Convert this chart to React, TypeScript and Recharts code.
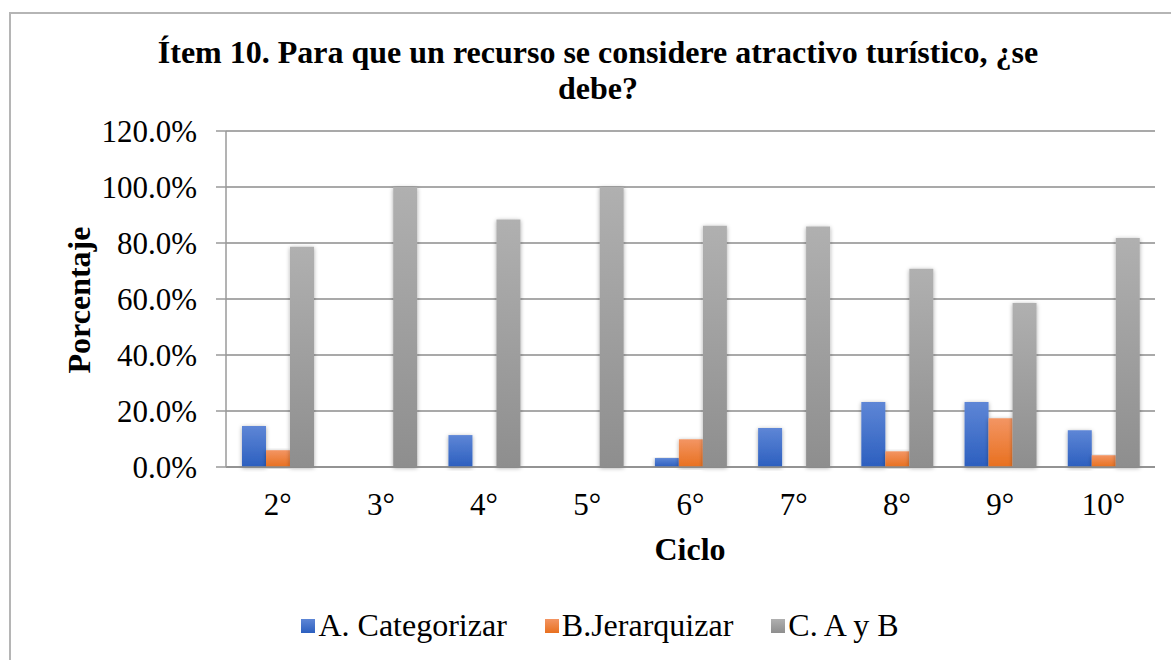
import React from 'react';
import { BarChart, Bar, XAxis, YAxis, CartesianGrid, Legend } from 'recharts';

const categories = ['2°', '3°', '4°', '5°', '6°', '7°', '8°', '9°', '10°'];
const seriesA = [0.146, 0, 0.114, 0, 0.032, 0.139, 0.232, 0.232, 0.131];
const seriesB = [0.06, 0, 0, 0, 0.099, 0, 0.056, 0.174, 0.042];
const seriesC = [0.787, 1.0, 0.884, 1.0, 0.862, 0.859, 0.708, 0.586, 0.818];
const yTicks = [0, 0.2, 0.4, 0.6, 0.8, 1.0, 1.2];
const seriesNames = ['A. Categorizar', 'B.Jerarquizar', 'C. A y B'];
const titleLines = ['Ítem 10. Para que un recurso se considere atractivo turístico, ¿se', 'debe?'];

const data = categories.map((c, i) => ({ name: c, a: seriesA[i], b: seriesB[i], c: seriesC[i] }));

const FONT = "'Liberation Serif', 'Times New Roman', serif";
const legendColors = ['url(#gA)', 'url(#gB)', 'url(#gC)'];
const legendSolid = [
  ['#5e86d6', '#2c5fbf'],
  ['#f39563', '#e8701f'],
  ['#b0b0b0', '#8e8e8e'],
];

const LegendContent = () => (
  <div style={{ display: 'flex', justifyContent: 'center', alignItems: 'center', fontFamily: FONT, fontSize: 32, color: '#000' }}>
    {seriesNames.map((n, i) => (
      <div key={n} style={{ display: 'flex', alignItems: 'center', marginLeft: i === 0 ? 0 : 38 }}>
        <span style={{ display: 'inline-block', width: 14, height: 14, background: `linear-gradient(${legendSolid[i][0]}, ${legendSolid[i][1]})`, marginRight: 3 }} />
        <span>{n}</span>
      </div>
    ))}
  </div>
);

export default function App() {
  return (
    <div style={{ position: 'absolute', left: 0, top: 0, width: 1171, height: 660, background: '#fff', overflow: 'hidden' }}>
      <div style={{ position: 'absolute', left: 9, top: 12, width: 1200, height: 700, border: '2px solid #b5b5b5', boxSizing: 'border-box' }} />
      <BarChart
        width={1171}
        height={660}
        data={data}
        margin={{ top: 131, right: 16, bottom: 133, left: 0 }}
        barCategoryGap="15.5%"
        barGap={0}
      >
        <defs>
          <linearGradient id="gA" x1="0" y1="0" x2="0" y2="1">
            <stop offset="0%" stopColor="#5e86d6" />
            <stop offset="100%" stopColor="#2c5fbf" />
          </linearGradient>
          <linearGradient id="gB" x1="0" y1="0" x2="0" y2="1">
            <stop offset="0%" stopColor="#f39563" />
            <stop offset="100%" stopColor="#e8701f" />
          </linearGradient>
          <linearGradient id="gC" x1="0" y1="0" x2="0" y2="1">
            <stop offset="0%" stopColor="#b0b0b0" />
            <stop offset="100%" stopColor="#8e8e8e" />
          </linearGradient>
          <filter id="shadow" x="-30%" y="-10%" width="160%" height="120%">
            <feDropShadow dx="0" dy="1" stdDeviation="2" floodColor="#000" floodOpacity="0.35" />
          </filter>
        </defs>
        <CartesianGrid vertical={false} stroke="#8c8c8c" strokeWidth={1.5} />
        <XAxis
          dataKey="name"
          tickLine={false}
          axisLine={{ stroke: '#8c8c8c', strokeWidth: 1.5 }}
          tickSize={0}
          tickMargin={26}
          height={60}
          tick={{ fontSize: 31, fill: '#000', fontFamily: FONT }}
        />
        <YAxis
          domain={[0, 1.2]}
          ticks={yTicks}
          width={226}
          tickSize={10}
          tickMargin={19}
          tickLine={{ stroke: '#9a9a9a', strokeWidth: 1.5 }}
          axisLine={{ stroke: '#9a9a9a', strokeWidth: 1.5 }}
          tickFormatter={(v: number) => (v * 100).toFixed(1) + '%'}
          tick={{ fontSize: 31, fill: '#000', fontFamily: FONT }}
          interval={0}
        />
        <Legend
          layout="horizontal"
          verticalAlign="middle"
          align="center"
          wrapperStyle={{ top: 607, left: 0, width: 1200 }}
          content={<LegendContent />}
        />
        <Bar dataKey="a" name={seriesNames[0]} fill={legendColors[0]} isAnimationActive={false} filter="url(#shadow)" />
        <Bar dataKey="b" name={seriesNames[1]} fill={legendColors[1]} isAnimationActive={false} filter="url(#shadow)" />
        <Bar dataKey="c" name={seriesNames[2]} fill={legendColors[2]} isAnimationActive={false} filter="url(#shadow)" />
      </BarChart>
      <div style={{ position: 'absolute', left: 0, top: 34, width: 1196, textAlign: 'center', fontFamily: FONT, fontWeight: 'bold', fontSize: 32, lineHeight: '36px', color: '#000' }}>
        <div>{titleLines[0]}</div>
        <div>{titleLines[1]}</div>
      </div>
      <div style={{ position: 'absolute', left: 79, top: 300, transform: 'translate(-50%, -50%) rotate(-90deg)', fontFamily: FONT, fontWeight: 'bold', fontSize: 32, whiteSpace: 'nowrap', color: '#000' }}>
        Porcentaje
      </div>
      <div style={{ position: 'absolute', left: 690, top: 549, transform: 'translate(-50%, -50%)', fontFamily: FONT, fontWeight: 'bold', fontSize: 32, whiteSpace: 'nowrap', color: '#000' }}>
        Ciclo
      </div>
    </div>
  );
}
